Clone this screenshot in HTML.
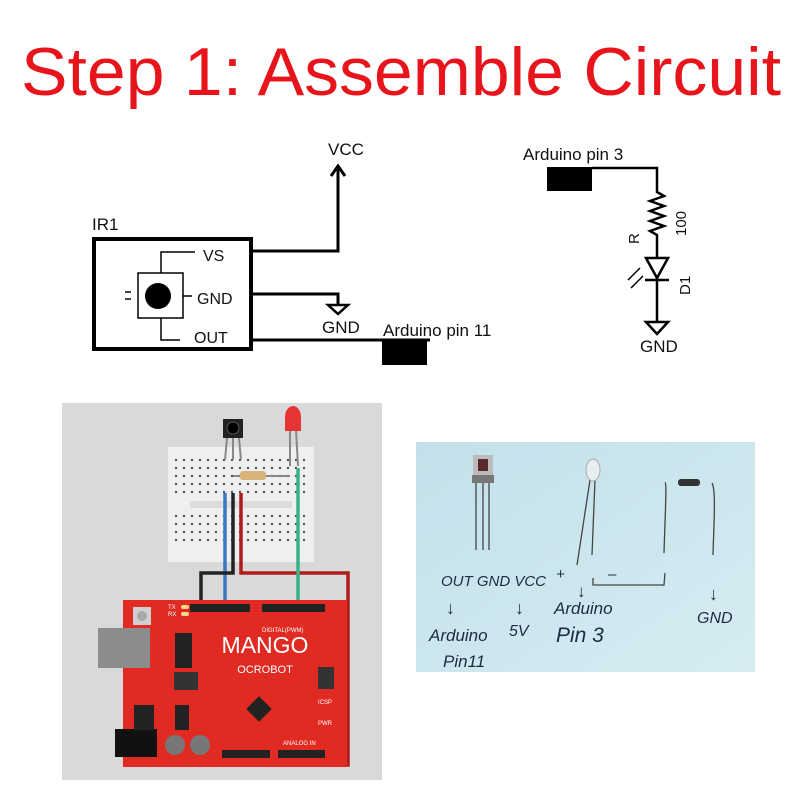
<!DOCTYPE html>
<html><head><meta charset="utf-8"><style>
html,body{margin:0;padding:0;background:#fff;width:800px;height:800px;overflow:hidden}
svg{display:block}
text{font-family:"Liberation Sans",sans-serif}
</style></head><body>
<svg width="800" height="800" viewBox="0 0 800 800" xmlns="http://www.w3.org/2000/svg">
<rect width="800" height="800" fill="#fff"/>
<text x="21" y="95" font-size="68" fill="#e8141c" textLength="760" lengthAdjust="spacingAndGlyphs">Step 1: Assemble Circuit</text>

<!-- IR schematic -->
<g stroke="#000" fill="none">
<rect x="94" y="239" width="157" height="110" stroke-width="4"/>
<rect x="138" y="273" width="45" height="45" stroke-width="1.5"/>
<polyline points="195,252 161,252 161,273" stroke-width="1.5"/>
<polyline points="161,318 161,340 180,340" stroke-width="1.5"/>
<line x1="183" y1="296" x2="192" y2="296" stroke-width="1.5"/>
<polyline points="252,251 338,251 338,166" stroke-width="3"/>
<polyline points="331,176 338,166 345,176" stroke-width="3"/>
<polyline points="252,294 338,294 338,305" stroke-width="3"/>
<polygon points="328,305 348,305 338,314" stroke-width="2.5"/>
<line x1="252" y1="340" x2="430" y2="340" stroke-width="3"/>
<line x1="125" y1="292" x2="131" y2="292" stroke-width="1.5"/>
<line x1="125" y1="299" x2="131" y2="299" stroke-width="1.5"/>
</g>
<circle cx="158" cy="296" r="13" fill="#000"/>
<rect x="382" y="340" width="45" height="25" fill="#000"/>
<g font-size="17" fill="#111">
<text x="92" y="230">IR1</text>
<text x="203" y="261" font-size="16">VS</text>
<text x="197" y="304" font-size="16">GND</text>
<text x="194" y="343" font-size="16">OUT</text>
<text x="328" y="155">VCC</text>
<text x="322" y="333">GND</text>
<text x="383" y="336">Arduino pin 11</text>
<text x="523" y="160">Arduino pin 3</text>
<text x="640" y="352">GND</text>
</g>
<!-- LED schematic -->
<rect x="547" y="167" width="45" height="24" fill="#000"/>
<g stroke="#000" fill="none" stroke-width="2.5">
<polyline points="592,168 657,168 657,192 664,196 650,201 664,206 650,211 664,216 650,221 664,226 650,231 657,235 657,258"/>
<line x1="657" y1="278" x2="657" y2="322"/>
<polygon points="646,258 668,258 657,278"/>
<line x1="645" y1="280" x2="669" y2="280"/>
<polygon points="646,322 668,322 657,334"/>
<line x1="640" y1="268" x2="628" y2="280" stroke-width="1.5"/>
<line x1="643" y1="276" x2="631" y2="288" stroke-width="1.5"/>
</g>
<g font-size="15" fill="#111">
<text transform="translate(639,244) rotate(-90)">R</text>
<text transform="translate(686,236) rotate(-90)">100</text>
<text transform="translate(690,295) rotate(-90)">D1</text>
</g>

<!-- Breadboard figure -->
<rect x="62" y="403" width="320" height="377" fill="#d9d9d9"/>
<rect x="168" y="447" width="146" height="115" fill="#efefef"/>
<rect x="190" y="501" width="102" height="7" fill="#dcdcdc"/>
<g fill="#555">
<g id="row">
<circle cx="176" cy="460" r="1.2"/><circle cx="184" cy="460" r="1.2"/><circle cx="192" cy="460" r="1.2"/><circle cx="200" cy="460" r="1.2"/><circle cx="208" cy="460" r="1.2"/><circle cx="216" cy="460" r="1.2"/><circle cx="224" cy="460" r="1.2"/><circle cx="232" cy="460" r="1.2"/><circle cx="240" cy="460" r="1.2"/><circle cx="248" cy="460" r="1.2"/><circle cx="256" cy="460" r="1.2"/><circle cx="264" cy="460" r="1.2"/><circle cx="272" cy="460" r="1.2"/><circle cx="280" cy="460" r="1.2"/><circle cx="288" cy="460" r="1.2"/><circle cx="296" cy="460" r="1.2"/><circle cx="304" cy="460" r="1.2"/>
</g>
<use href="#row" y="8"/><use href="#row" y="16"/><use href="#row" y="24"/><use href="#row" y="32"/>
<use href="#row" y="56"/><use href="#row" y="64"/><use href="#row" y="72"/><use href="#row" y="80"/>
</g>
<rect x="223" y="419" width="20" height="19" fill="#222"/>
<circle cx="233" cy="428" r="6" fill="#000" stroke="#555"/>
<g stroke="#888" stroke-width="2" fill="none">
<line x1="227" y1="438" x2="225" y2="460"/><line x1="233" y1="438" x2="233" y2="460"/><line x1="239" y1="438" x2="241" y2="460"/>
<line x1="290" y1="430" x2="290" y2="466"/><line x1="296" y1="430" x2="298" y2="466"/>
<line x1="233" y1="476" x2="290" y2="476"/>
</g>
<rect x="240" y="471" width="26" height="9" rx="3" fill="#d9b27a"/>
<ellipse cx="293" cy="417" rx="8" ry="11" fill="#e83434"/>
<rect x="285" y="417" width="16" height="14" fill="#e83434"/>
<g fill="none" stroke-width="3.5">
<polyline points="225,493 225,604" stroke="#3b78c3"/>
<polyline points="233,493 233,573 201,573 201,604" stroke="#222"/>
<polyline points="241,493 241,573 348,573 348,765 240,765 240,750" stroke="#b01c1c"/>
<polyline points="298,468 298,604" stroke="#38b08a"/>
</g>
<rect x="123" y="600" width="224" height="167" fill="#e02a22"/>
<rect x="98" y="628" width="52" height="40" fill="#8c8c8c"/>
<rect x="115" y="729" width="42" height="28" fill="#111"/>
<rect x="133" y="607" width="18" height="18" fill="#cfcfcf"/>
<circle cx="142" cy="616" r="5" fill="#a9a9a9"/>
<rect x="175" y="633" width="17" height="35" fill="#222"/>
<rect x="175" y="705" width="14" height="25" fill="#222"/>
<rect x="134" y="705" width="20" height="25" fill="#222"/>
<rect x="174" y="672" width="24" height="18" fill="#333"/>
<circle cx="175" cy="745" r="10" fill="#777"/><circle cx="200" cy="745" r="10" fill="#777"/>
<rect x="250" y="700" width="18" height="18" fill="#222" transform="rotate(45 259 709)"/>
<rect x="318" y="667" width="16" height="22" fill="#333"/>
<g fill="#222">
<rect x="190" y="604" width="60" height="8"/><rect x="262" y="604" width="63" height="8"/>
<rect x="222" y="750" width="48" height="8"/><rect x="278" y="750" width="47" height="8"/>
</g>
<g fill="#ffd98a"><rect x="181" y="605" width="8" height="4" rx="2"/><rect x="181" y="612" width="8" height="4" rx="2"/></g>
<g font-size="6" fill="#fff"><text x="168" y="609">TX</text><text x="168" y="616">RX</text><text x="262" y="632">DIGITAL(PWM)</text><text x="318" y="704">ICSP</text><text x="318" y="725">PWR</text><text x="283" y="745">ANALOG IN</text></g>
<text x="265" y="653" font-size="23" fill="#fff" text-anchor="middle">MANGO</text>
<text x="265" y="673" font-size="11" fill="#fff" text-anchor="middle">OCROBOT</text>

<!-- photo -->
<defs><linearGradient id="pg" x1="0" y1="0" x2="1" y2="1"><stop offset="0" stop-color="#c3e0ea"/><stop offset="1" stop-color="#d6ecf2"/></linearGradient></defs>
<rect x="416" y="442" width="339" height="230" fill="url(#pg)"/>
<rect x="473" y="455" width="20" height="20" fill="#bbb"/>
<rect x="478" y="459" width="10" height="12" fill="#5a2a2a"/>
<rect x="472" y="475" width="22" height="8" fill="#777"/>
<g stroke="#444" stroke-width="1.3" fill="none">
<line x1="476" y1="483" x2="476" y2="550"/><line x1="483" y1="483" x2="483" y2="550"/><line x1="489" y1="483" x2="489" y2="550"/>
<path d="M590,480 L577,565 M595,480 L592,555"/>
<path d="M665,483 C667,480 665,520 664,553 M712,483 C716,490 714,520 713,555"/>
<path d="M593,578 L593,585 L664,585 L665,573"/>
</g>
<ellipse cx="593" cy="470" rx="7" ry="11" fill="#e6eef0" stroke="#aaa"/>
<rect x="678" y="479" width="22" height="7" rx="3" fill="#333"/>
<g font-family="Liberation Sans,sans-serif" font-style="italic" fill="#1f2a44">
<text x="441" y="586" font-size="15">OUT GND VCC</text>
<text x="446" y="614" font-size="18">↓</text>
<text x="515" y="614" font-size="18">↓</text>
<text x="429" y="641" font-size="17">Arduino</text>
<text x="443" y="667" font-size="17">Pin11</text>
<text x="509" y="636" font-size="16">5V</text>
<text x="556" y="579" font-size="15">+</text>
<text x="577" y="597" font-size="17">↓</text>
<text x="554" y="614" font-size="17">Arduino</text>
<text x="556" y="642" font-size="21">Pin 3</text>
<text x="608" y="579" font-size="15">–</text>
<text x="709" y="600" font-size="18">↓</text>
<text x="697" y="623" font-size="16">GND</text>
</g>
</svg>
</body></html>
